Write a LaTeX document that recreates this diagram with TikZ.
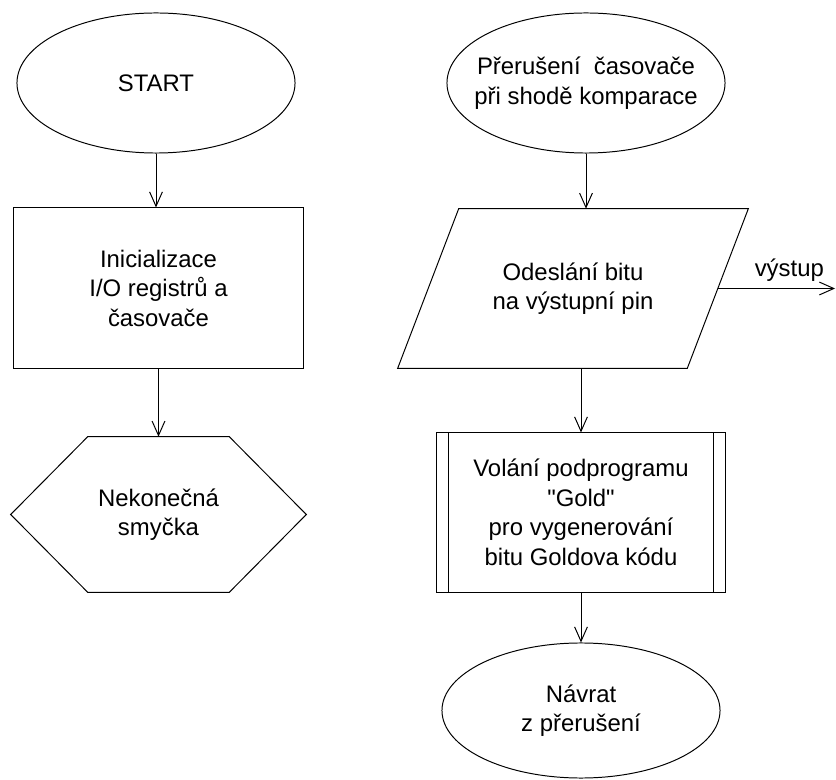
\documentclass[tikz,border=0pt]{standalone}
\usepackage{fontspec}
\setmainfont{Liberation Sans}
\usetikzlibrary{arrows.meta,shapes.geometric}

\begin{document}
\begin{tikzpicture}[x=0.025cm,y=-0.025cm,
  every node/.style={font=\fontsize{17}{21}\selectfont,align=center},
  line/.style={line width=0.7pt},
  flow/.style={line,-{Straight Barb[length=3.6mm,width=3.2mm]}},
  oval/.style={ellipse,draw,line,minimum width=6.95cm,minimum height=3.5cm,inner sep=-0.8cm},
  blank/.style={inner sep=0pt}]
  \useasboundingbox (0,0) rectangle (836,780);

  % left: main program
  \node[oval] (start) at (156,83) {START};
  \node[draw,line,minimum width=7.225cm,minimum height=4cm] (init) at (158.5,288)
    {Inicializace\\I/O registrů a\\časovače};
  \node[blank,minimum width=7.375cm,minimum height=3.875cm] (loop) at (158.5,514.5)
    {Nekonečná\\smyčka};
  \draw[line] (loop.west) -- ([xshift=1.925cm]loop.north west) -- ([xshift=-1.925cm]loop.north east)
    -- (loop.east) -- ([xshift=-1.925cm]loop.south east) -- ([xshift=1.925cm]loop.south west) -- cycle;

  \draw[flow] (start) -- (start |- init.north);
  \draw[flow] (init) -- (loop);

  % right: interrupt routine
  \node[oval] (irq) at (586,83) {Přerušení\ \ časovače\\při shodě komparace};
  \node[blank,minimum width=7.225cm,minimum height=3.975cm] (send) at (573,288.5)
    {Odeslání bitu\\na výstupní pin};
  \draw[line] ([xshift=0.7625cm]send.north west) -- ([xshift=0.7625cm]send.north east)
    -- ([xshift=-0.7625cm]send.south east) -- ([xshift=-0.7625cm]send.south west) -- cycle;
  \node[draw,line,minimum width=7.2cm,minimum height=3.975cm] (gold) at (581,512.5)
    {Volání podprogramu\\\textquotedbl Gold\textquotedbl\\pro vygenerování\\bitu Goldova kódu};
  \draw[line] ([xshift=0.3cm]gold.north west) -- ([xshift=0.3cm]gold.south west)
    ([xshift=-0.3cm]gold.north east) -- ([xshift=-0.3cm]gold.south east);
  \node[oval,minimum height=3.375cm] (ret) at (581,710.5) {Návrat\\z přerušení};
  \coordinate (out) at (835,288.5);

  \draw[flow] (irq) -- (irq |- send.north);
  \draw[flow] (send.east) -- (out) node[pos=0.61,above=1pt] (outlbl) {výstup};
  \draw[flow] (send.south -| gold.north) -- (gold.north);
  \draw[flow] (gold) -- (ret);
\end{tikzpicture}
\end{document}
